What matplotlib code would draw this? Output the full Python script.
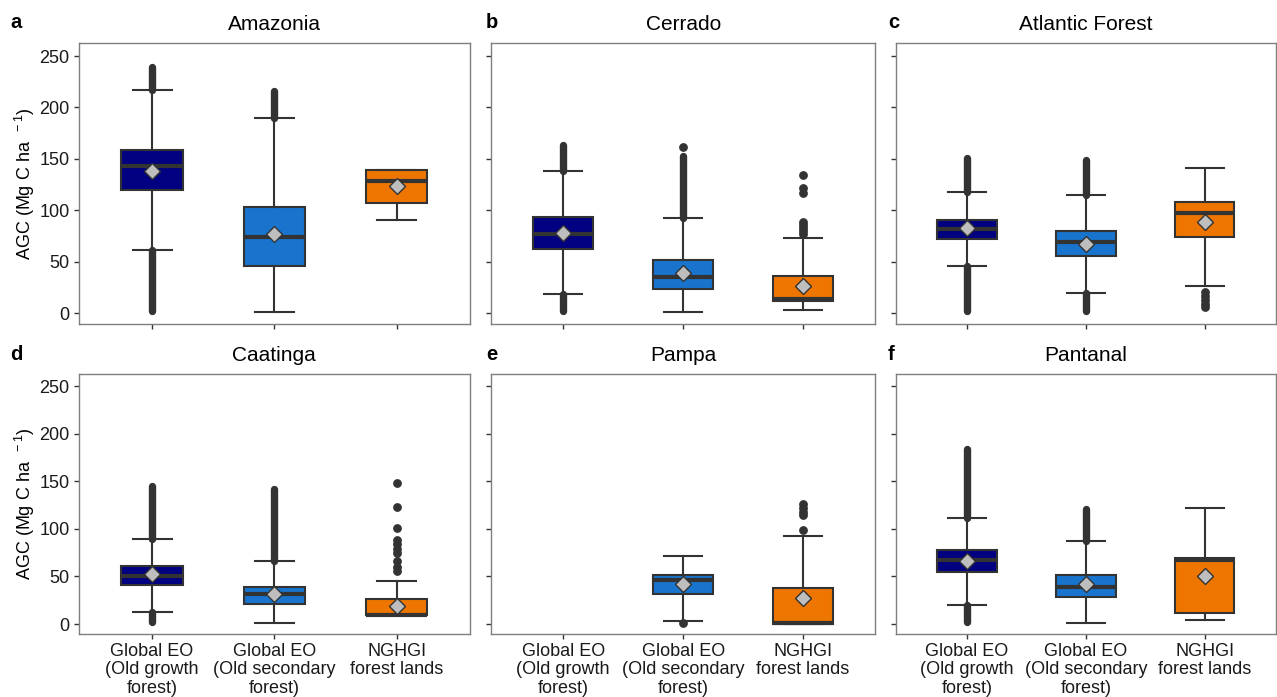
import matplotlib
matplotlib.use('Agg')
from matplotlib import pyplot as plt

plt.rcParams['font.family'] = ['Liberation Sans', 'DejaVu Sans']
plt.rcParams['mathtext.fontset'] = 'custom'
plt.rcParams['mathtext.rm'] = 'Liberation Sans'
plt.rcParams['mathtext.it'] = 'Liberation Sans'

regions = ['Amazonia', 'Cerrado', 'Atlantic Forest', 'Caatinga', 'Pampa', 'Pantanal']
letters = ['a', 'b', 'c', 'd', 'e', 'f']
groups = ['Global EO\n(Old growth\nforest)', 'Global EO\n(Old secondary\nforest)', 'NGHGI\nforest lands']
colors = ['#000080', '#1874CD', '#EE7600']

# box statistics per region (old growth, old secondary, NGHGI); None = no data
q1 = [[120, 46, 106.7], [62.7, 23.3, 11.9], [72.4, 55.3, 74], [41, 21.4, 9.1], [None, 31.9, 0.4], [54.3, 28.4, 11.9]]
med = [[142.7, 74.4, 128.4], [77.3, 35.2, 13.6], [81.5, 68.9, 97], [50.8, 31.9, 9.8], [None, 45.9, 1.0], [67.2, 38.9, 66.9]]
q3 = [[158.5, 103, 139], [93.4, 51.4, 36.2], [90.5, 79.9, 108.3], [60.6, 39.2, 26.3], [None, 51.1, 37.8], [77.4, 51.8, 69.3]]
whislo = [[61.7, 1.3, 90.5], [18.4, 1.3, 3.5], [45.9, 19.7, 26.8], [12.6, 1.4, 9.1], [None, 3.2, 0.4], [20, 1.4, 4.6]]
whishi = [[217.4, 190, 139], [138.4, 92.5, 73], [117.4, 115, 141], [89.3, 66.2, 45.2], [None, 71.1, 92.8], [111.7, 86.8, 121.8]]
means = [[138, 76.7, 123.8], [77.6, 39.4, 26.5], [83, 67.6, 88.6], [52.2, 31.9, 19.3], [None, 41.7, 27.3], [66.2, 41.7, 50.1]]

# dense outlier columns (low, high) and single outliers
flier_bands = [
    [[(2, 61.7), (217.4, 239)], [(190, 216)], []],
    [[(2, 18.4), (138.4, 164)], [(92.5, 153)], []],
    [[(2, 45.9), (117.4, 151)], [(2, 19.7), (115, 149)], []],
    [[(2, 12.6), (89.3, 145)], [(66.2, 142)], []],
    [[], [], []],
    [[(2, 20), (111.7, 184)], [(86.8, 121)], []],
]
flier_points = [
    [[], [], []],
    [[], [162], [134, 122, 117, 89, 86, 83, 80, 77]],
    [[], [], [21, 17, 13, 9, 6]],
    [[], [], [148.5, 123, 101, 88.6, 83.7, 78.4, 74.6, 65.8, 59.9, 56]],
    [[], [1.4], [126, 122, 118, 115, 98.4]],
    [[], [], []],
]

fig = plt.figure(figsize=(12.77, 6.97), dpi=100)
W, H = 1277, 697
lefts = [78.7, 491.3, 895.7]
rights = [470, 875, 1276]
tops = [42.7, 373.7]
bottoms = [324, 634]
letter_x = [10, 486, 888]

dark = '#333333'
for i in range(6):
    r, c = divmod(i, 3)
    ax = fig.add_axes([lefts[c] / W, 1 - bottoms[r] / H,
                       (rights[c] - lefts[c]) / W, (bottoms[r] - tops[r]) / H])
    # outliers
    for j in range(3):
        for lo, hi in flier_bands[i][j]:
            ax.plot([j + 1, j + 1], [lo, hi], color=dark, lw=5.3, solid_capstyle='round', zorder=1)
        if flier_points[i][j]:
            ax.plot([j + 1] * len(flier_points[i][j]), flier_points[i][j], 'o',
                    color=dark, ms=5.3, zorder=1)
    stats, pos, cols = [], [], []
    for j in range(3):
        if q1[i][j] is None:
            continue
        stats.append(dict(q1=q1[i][j], med=med[i][j], q3=q3[i][j], whislo=whislo[i][j],
                          whishi=whishi[i][j], mean=means[i][j], fliers=[]))
        pos.append(j + 1)
        cols.append(colors[j])
    bp = ax.bxp(stats, positions=pos, widths=0.5, capwidths=0.32, patch_artist=True,
                showmeans=True, showfliers=False,
                boxprops=dict(edgecolor=dark, linewidth=1.5),
                medianprops=dict(color=dark, linewidth=3),
                whiskerprops=dict(color=dark, linewidth=1.5),
                capprops=dict(color=dark, linewidth=1.5),
                meanprops=dict(marker='D', markerfacecolor='#BEBEBE', markeredgecolor=dark,
                               markersize=8, markeredgewidth=1))
    for patch, col in zip(bp['boxes'], cols):
        patch.set_facecolor(col)
        patch.set_zorder(2)

    ax.set_xlim(0.4, 3.6)
    ax.set_ylim(-10.5, 263)
    ax.set_yticks([0, 50, 100, 150, 200, 250])
    ax.set_xticks([1, 2, 3])
    if r == 1:
        ax.set_xticklabels(groups, fontsize=13, linespacing=1.1)
    else:
        ax.set_xticklabels([])
    if c != 0:
        ax.set_yticklabels([])
    else:
        ax.set_ylabel('AGC (Mg C ha $^{\\ -1}$)', fontsize=13, labelpad=2)
    ax.tick_params(length=3.5, width=1, color=dark, labelsize=13, labelcolor='#1a1a1a', pad=3)
    for s in ax.spines.values():
        s.set_color('#7f7f7f')
        s.set_linewidth(1)
    ax.set_title(regions[i], fontsize=15, pad=9)
    fig.text(letter_x[c] / W, 1 - (23 + 331 * r) / H, letters[i], fontsize=14.5,
             fontweight='bold', ha='left', va='center')

plt.savefig('out.png', dpi=100)
